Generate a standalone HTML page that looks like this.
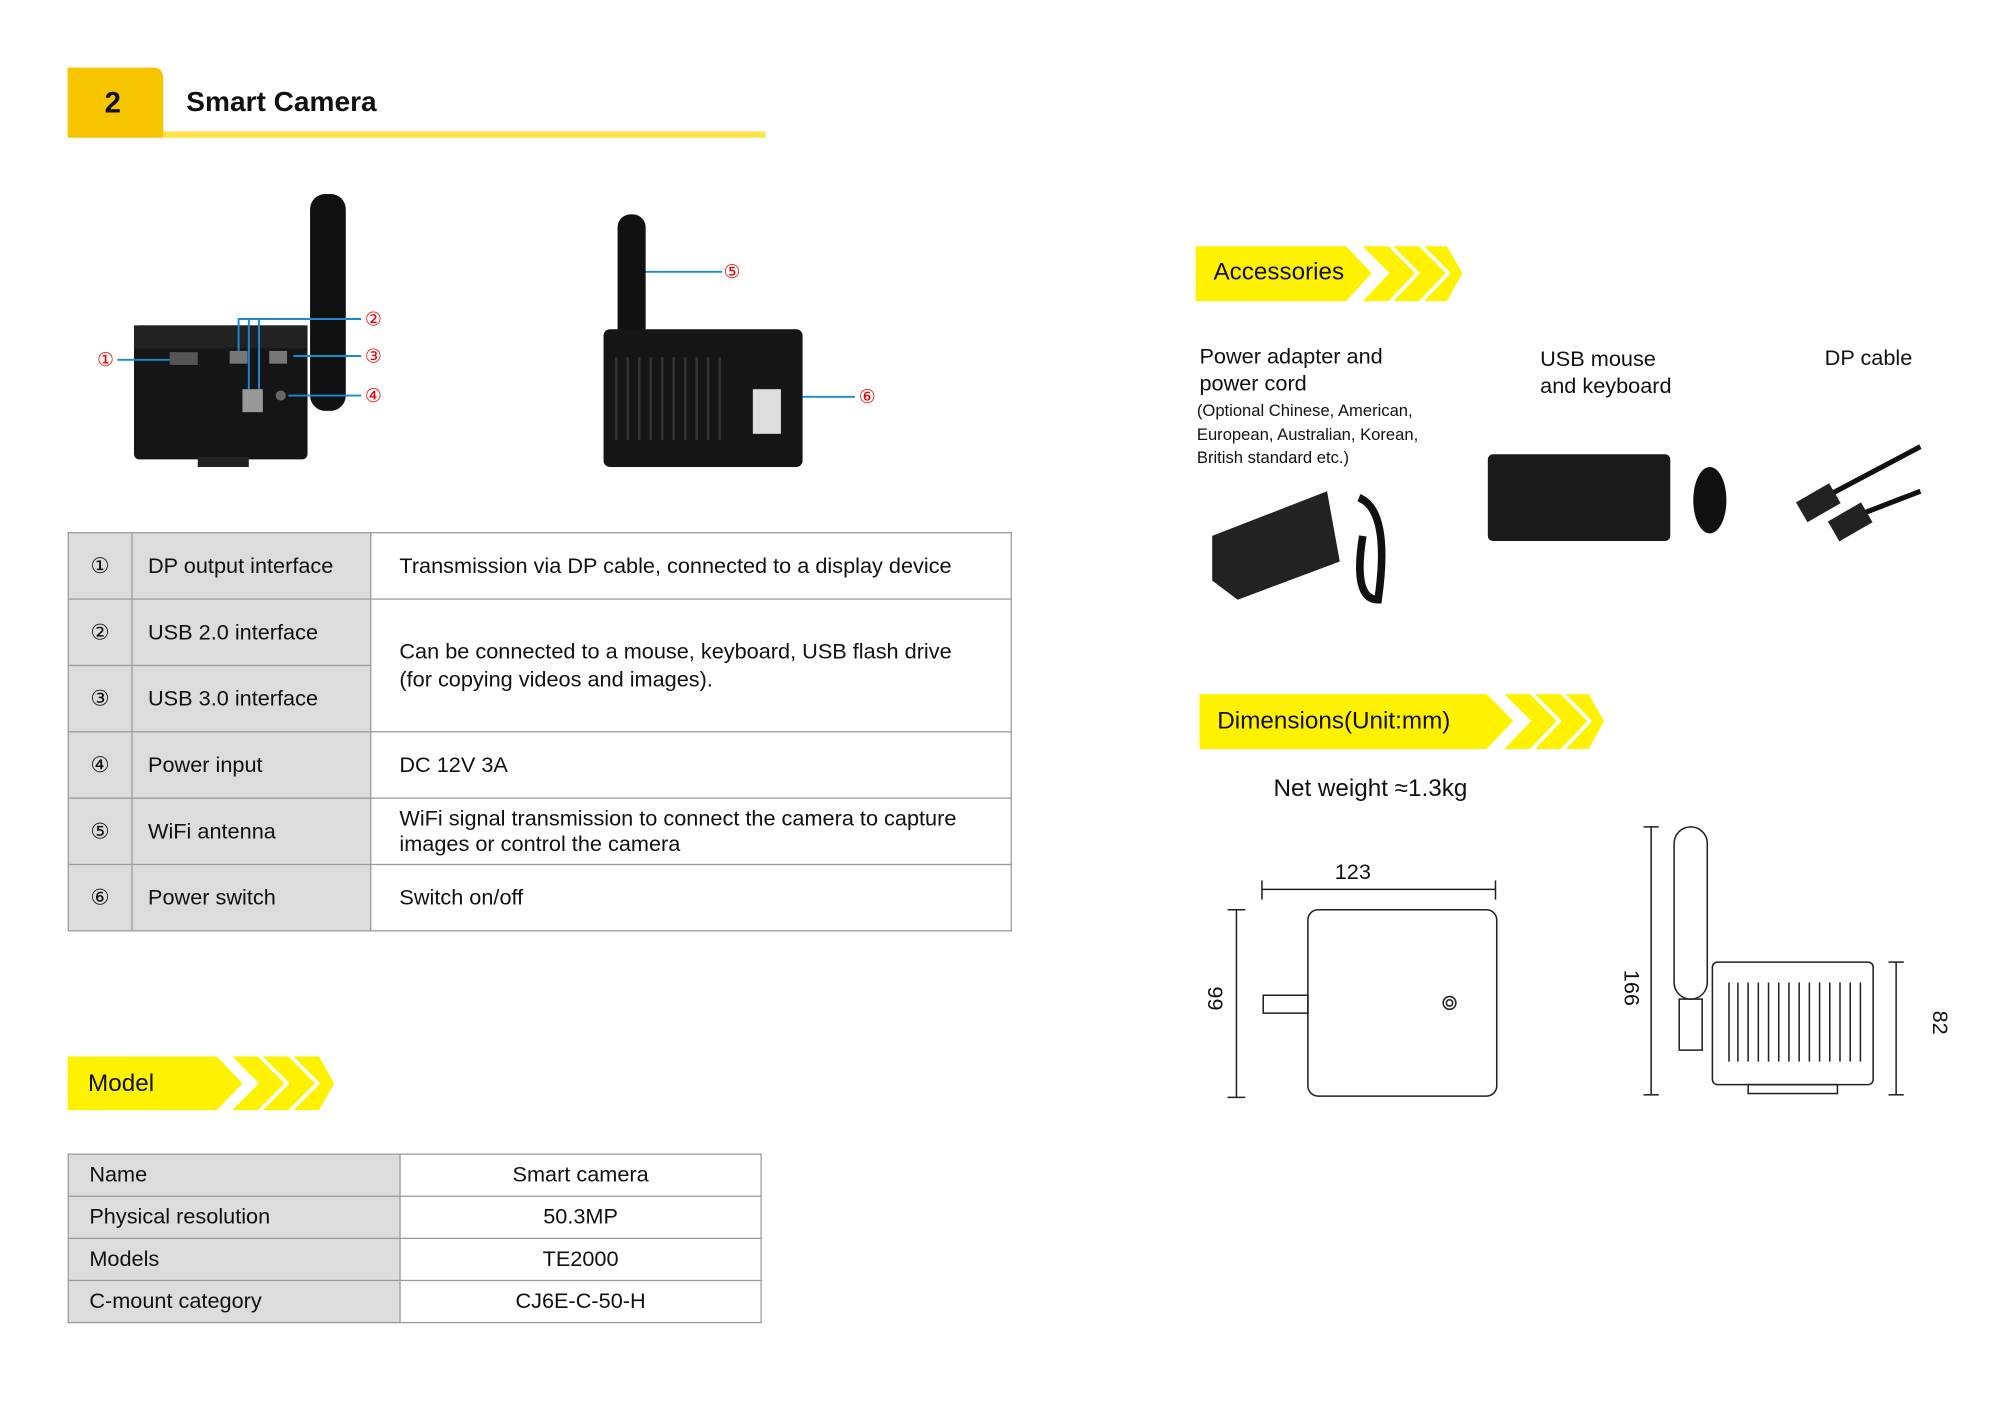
<!DOCTYPE html>
<html><head><meta charset="utf-8">
<style>
html,body{margin:0;padding:0;background:#fff;}
body{width:2000px;height:1414px;overflow:hidden;}
#p{position:absolute;left:0;top:0;width:1570px;height:1110px;transform:scale(1.2760);transform-origin:0 0;font-family:"Liberation Sans",sans-serif;color:#111;}
.a{position:absolute;white-space:nowrap;}
table{border-collapse:collapse;position:absolute;}
td{border:1px solid #9a9a9a;font-size:17px;padding:0;}
.g{background:#dcdcdc;}
</style></head><body><div id="p">
<svg class="a" style="left:0;top:0" width="1570" height="1110">
<path d="M53 53 H120 Q128 53 128 62 V108 H53 Z" fill="#f7c400"/>
<rect x="128" y="103" width="472" height="5" fill="#fde24a"/>
<rect x="243" y="152" width="28" height="170" rx="12" fill="#111"/>
<rect x="105" y="255" width="136" height="105" rx="4" fill="#151515"/>
<rect x="105" y="255" width="136" height="18" fill="#222"/>
<rect x="133" y="276" width="22" height="10" fill="#555"/>
<rect x="180" y="275" width="14" height="10" fill="#777"/>
<rect x="211" y="275" width="14" height="10" fill="#777"/>
<rect x="190" y="305" width="16" height="18" fill="#999"/>
<circle cx="220" cy="310" r="4" fill="#666"/>
<rect x="155" y="358" width="40" height="8" fill="#222"/>
<g stroke="#1a8bd0" stroke-width="1.5" fill="none">
<line x1="92" y1="282" x2="133" y2="282"/>
<polyline points="187,275 187,250 283,250"/><line x1="195" y1="250" x2="195" y2="305"/><line x1="203" y1="250" x2="203" y2="305"/>
<line x1="230" y1="279" x2="283" y2="279"/>
<line x1="226" y1="310" x2="283" y2="310"/>
<line x1="500" y1="213" x2="566" y2="213"/>
<line x1="585" y1="311" x2="670" y2="311"/>
</g>
<rect x="484" y="168" width="22" height="100" rx="10" fill="#111"/>
<rect x="473" y="258" width="156" height="108" rx="5" fill="#151515"/>
<g stroke="#333" stroke-width="2">
<line x1="483" y1="280" x2="483" y2="345"/><line x1="492" y1="280" x2="492" y2="345"/><line x1="501" y1="280" x2="501" y2="345"/><line x1="510" y1="280" x2="510" y2="345"/><line x1="519" y1="280" x2="519" y2="345"/><line x1="528" y1="280" x2="528" y2="345"/><line x1="537" y1="280" x2="537" y2="345"/><line x1="546" y1="280" x2="546" y2="345"/><line x1="555" y1="280" x2="555" y2="345"/><line x1="564" y1="280" x2="564" y2="345"/>
</g>
<rect x="590" y="305" width="22" height="35" fill="#ddd"/>
<g fill="#fff200">
<polygon points="53,828 170,828 190,849 170,870 53,870"/>
<polygon points="182,828 202,828 223,849 202,870 182,870 203,849"/>
<polygon points="206,828 226,828 247,849 226,870 206,870 227,849"/>
<polygon points="230,828 250,828 262,849 250,870 230,870 251,849"/>
<polygon points="937,193 1055,193 1075,214 1055,236 937,236"/>
<polygon points="1068,193 1088,193 1109,214 1088,236 1068,236 1089,214"/>
<polygon points="1092,193 1112,193 1133,214 1112,236 1092,236 1113,214"/>
<polygon points="1116,193 1134,193 1146,214 1134,236 1116,236 1137,214"/>
<polygon points="940,544 1165,544 1186,565 1165,587 940,587"/>
<polygon points="1179,544 1199,544 1220,565 1199,587 1179,587 1200,565"/>
<polygon points="1203,544 1223,544 1244,565 1223,587 1203,587 1224,565"/>
<polygon points="1227,544 1245,544 1257,565 1245,587 1227,587 1248,565"/>
</g>
<polygon points="950,420 1040,385 1050,440 970,470 950,455" fill="#222"/>
<path d="M1065 390 Q1090 400 1080 470 Q1060 470 1068 420" stroke="#111" stroke-width="6" fill="none"/>
<rect x="1166" y="356" width="143" height="68" rx="4" fill="#1a1a1a"/>
<ellipse cx="1340" cy="392" rx="13" ry="26" fill="#111"/>
<g stroke="#111" stroke-width="4" fill="none"><path d="M1420 395 L1505 350"/><path d="M1440 410 L1505 385"/></g>
<rect x="1410" y="385" width="30" height="18" fill="#222" transform="rotate(-30 1425 394)"/>
<rect x="1435" y="400" width="30" height="18" fill="#222" transform="rotate(-30 1450 409)"/>
<g stroke="#222" stroke-width="1.2" fill="none">
<line x1="989" y1="697" x2="1172" y2="697"/><line x1="989" y1="690" x2="989" y2="705"/><line x1="1172" y1="690" x2="1172" y2="705"/>
<line x1="969" y1="713" x2="969" y2="860"/><line x1="962" y1="713" x2="976" y2="713"/><line x1="962" y1="860" x2="976" y2="860"/>
<rect x="1025" y="713" width="148" height="146" rx="8"/>
<circle cx="1136" cy="786" r="5"/><circle cx="1136" cy="786" r="2.5"/>
<path d="M990 780 h35 v14 h-35 z"/>
<line x1="1294" y1="648" x2="1294" y2="858"/><line x1="1288" y1="648" x2="1300" y2="648"/><line x1="1288" y1="858" x2="1300" y2="858"/>
<line x1="1486" y1="754" x2="1486" y2="858"/><line x1="1480" y1="754" x2="1492" y2="754"/><line x1="1480" y1="858" x2="1492" y2="858"/>
<rect x="1312" y="648" width="26" height="135" rx="13"/>
<rect x="1316" y="783" width="18" height="40"/>
<rect x="1342" y="754" width="126" height="96" rx="4"/>
<rect x="1370" y="850" width="70" height="7"/>
<path d="M1355 770 v62 M1362 770 v62 M1370 770 v62 M1378 770 v62 M1386 770 v62 M1394 770 v62 M1402 770 v62 M1410 770 v62 M1418 770 v62 M1426 770 v62 M1434 770 v62 M1442 770 v62 M1450 770 v62 M1458 770 v62"/>
</g>
</svg>
<div class="a" style="left:82px;top:67px;font-size:23px;font-weight:bold">2</div>
<div class="a" style="left:146px;top:67px;font-size:22px;font-weight:bold">Smart Camera</div>
<div class="a" style="left:76px;top:273px;color:#e00;font-size:15px">①</div>
<div class="a" style="left:286px;top:241px;color:#e00;font-size:15px">②</div>
<div class="a" style="left:286px;top:270px;color:#e00;font-size:15px">③</div>
<div class="a" style="left:286px;top:301px;color:#e00;font-size:15px">④</div>
<div class="a" style="left:567px;top:204px;color:#e00;font-size:15px">⑤</div>
<div class="a" style="left:673px;top:302px;color:#e00;font-size:15px">⑥</div>

<table style="left:53px;top:417px;width:740px">
<tr style="height:52px"><td class="g" style="width:49px;text-align:center">①</td><td class="g" style="width:174px;padding-left:12px">DP output interface</td><td style="padding-left:22px">Transmission via DP cable, connected to a display device</td></tr>
<tr style="height:52px"><td class="g" style="text-align:center">②</td><td class="g" style="padding-left:12px">USB 2.0 interface</td><td rowspan="2" style="padding-left:22px;line-height:22px">Can be connected to a mouse, keyboard, USB flash drive<br>(for copying videos and images).</td></tr>
<tr style="height:52px"><td class="g" style="text-align:center">③</td><td class="g" style="padding-left:12px">USB 3.0 interface</td></tr>
<tr style="height:52px"><td class="g" style="text-align:center">④</td><td class="g" style="padding-left:12px">Power input</td><td style="padding-left:22px">DC 12V 3A</td></tr>
<tr style="height:52px"><td class="g" style="text-align:center">⑤</td><td class="g" style="padding-left:12px">WiFi antenna</td><td style="padding-left:22px;line-height:20px">WiFi signal transmission to connect the camera to capture<br>images or control the camera</td></tr>
<tr style="height:52px"><td class="g" style="text-align:center">⑥</td><td class="g" style="padding-left:12px">Power switch</td><td style="padding-left:22px">Switch on/off</td></tr>
</table>

<div class="a" style="left:69px;top:839px;font-size:19px">Model</div>
<table style="left:53px;top:904px;width:544px">
<tr style="height:33px"><td class="g" style="width:243px;padding-left:16px">Name</td><td style="text-align:center">Smart camera</td></tr>
<tr style="height:33px"><td class="g" style="padding-left:16px">Physical resolution</td><td style="text-align:center">50.3MP</td></tr>
<tr style="height:33px"><td class="g" style="padding-left:16px">Models</td><td style="text-align:center">TE2000</td></tr>
<tr style="height:33px"><td class="g" style="padding-left:16px">C-mount category</td><td style="text-align:center">CJ6E-C-50-H</td></tr>
</table>

<div class="a" style="left:951px;top:203px;font-size:19px">Accessories</div>
<div class="a" style="left:940px;top:269px;font-size:17px;line-height:21px">Power adapter and<br>power cord</div>
<div class="a" style="left:938px;top:313px;font-size:13px;line-height:18.5px">(Optional Chinese, American,<br>European, Australian, Korean,<br>British standard etc.)</div>
<div class="a" style="left:1207px;top:271px;font-size:17px;line-height:21px">USB mouse<br>and keyboard</div>
<div class="a" style="left:1430px;top:271px;font-size:17px">DP cable</div>
<div class="a" style="left:954px;top:555px;font-size:19px">Dimensions(Unit:mm)</div>
<div class="a" style="left:998px;top:608px;font-size:19px">Net weight ≈1.3kg</div>
<div class="a" style="left:1046px;top:674px;font-size:17px">123</div>
<div class="a" style="left:943px;top:772px;font-size:17px;transform:rotate(-90deg);transform-origin:10px 10px">66</div>
<div class="a" style="left:1268px;top:760px;font-size:17px;transform:rotate(90deg);transform-origin:10px 10px">166</div>
<div class="a" style="left:1510px;top:792px;font-size:17px;transform:rotate(90deg);transform-origin:10px 10px">82</div>
</div></body></html>
